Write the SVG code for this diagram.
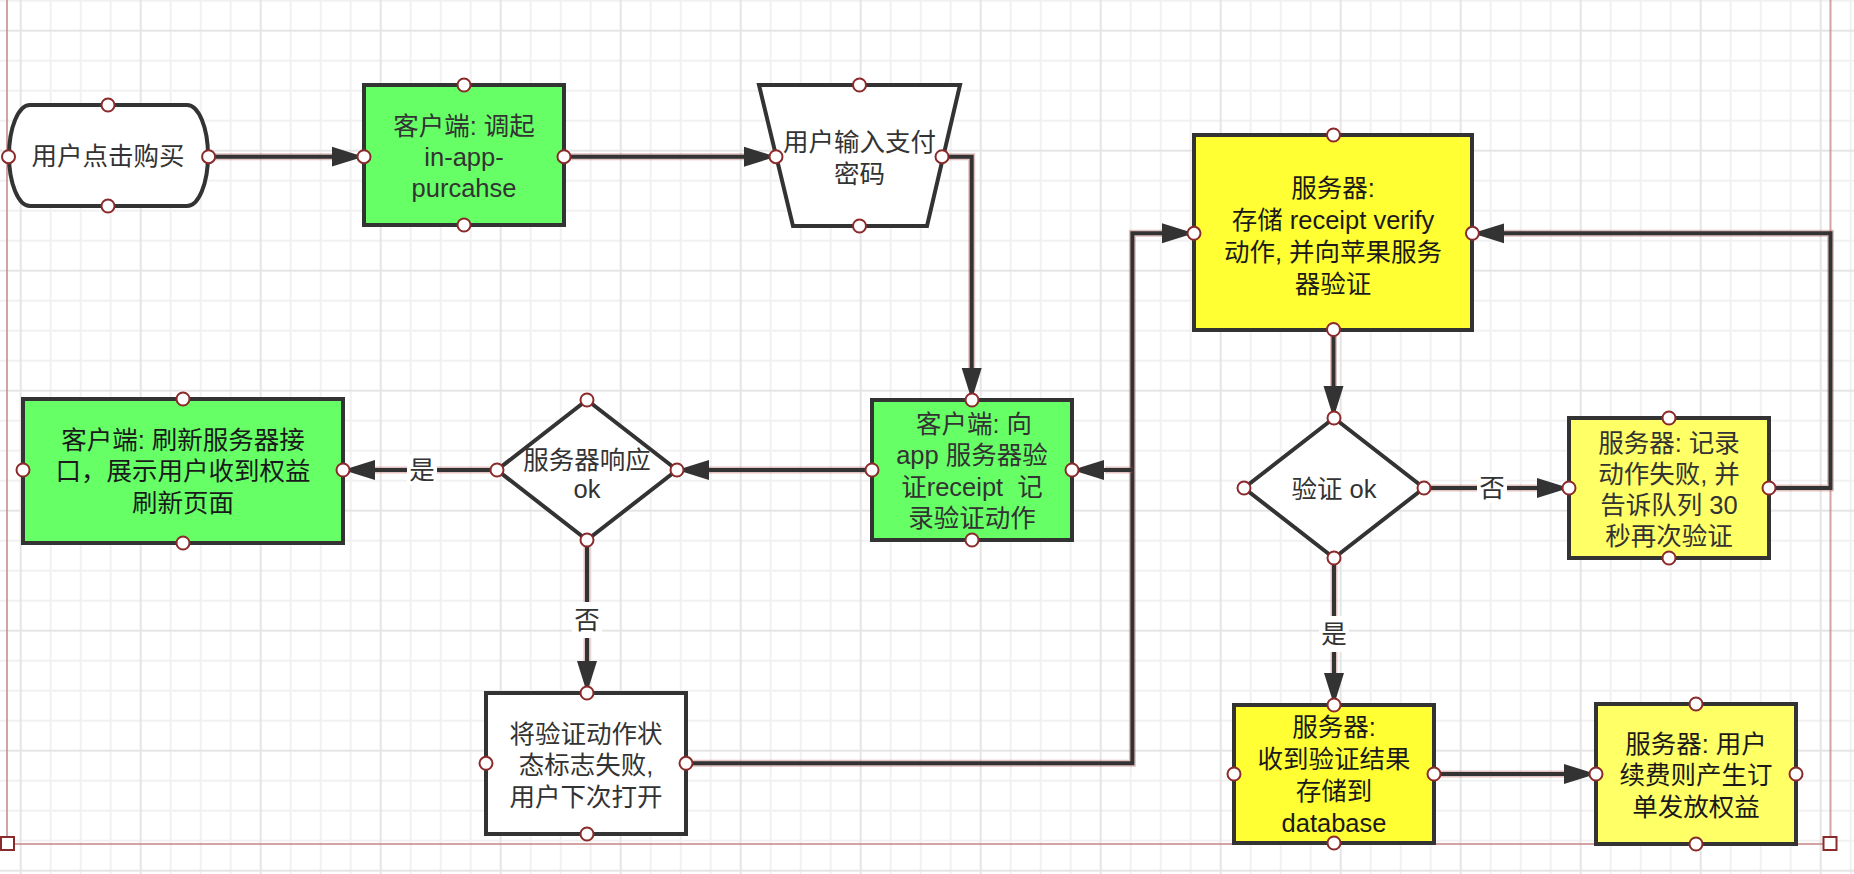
<svg xmlns="http://www.w3.org/2000/svg" width="1854" height="874" viewBox="0 0 1854 874">
<style>
.t{font-family:"Liberation Sans","Noto Sans CJK SC",sans-serif;font-size:25.5px;fill:#333;text-anchor:middle;dominant-baseline:central}
.d{fill:#1a1a1a}
.box{stroke:#333;stroke-width:4}
.g{fill:#66ff66}
.y1{fill:#ffff33}
.y2{fill:#ffff66}
.w{fill:#fff}
.port{fill:#fff;stroke:#8b2a2a;stroke-width:2}
.halo{fill:none;stroke:#b05050;stroke-opacity:0.35;stroke-width:7;stroke-linejoin:miter}
.ln{fill:none;stroke:#333;stroke-width:4;marker-end:url(#ah)}
.lbl{fill:#fff}
.border{stroke:#c88c8c;stroke-opacity:0.8;stroke-width:2;fill:none}
.sq{fill:#fff;stroke:#8b2a2a;stroke-width:2}
</style>
<defs>
<pattern id="grid" patternUnits="userSpaceOnUse" x="19.7" y="29.7" width="120" height="120">
<rect x="30" y="0" width="2" height="120" fill="#f1f1f1"/>
<rect x="60" y="0" width="2" height="120" fill="#f1f1f1"/>
<rect x="90" y="0" width="2" height="120" fill="#f1f1f1"/>
<rect x="0" y="30" width="120" height="2" fill="#f1f1f1"/>
<rect x="0" y="60" width="120" height="2" fill="#f1f1f1"/>
<rect x="0" y="90" width="120" height="2" fill="#f1f1f1"/>
<rect x="0" y="0" width="2" height="120" fill="#e5e5e5"/>
<rect x="0" y="0" width="120" height="2" fill="#e5e5e5"/>
</pattern>
<marker id="ah" markerUnits="userSpaceOnUse" markerWidth="34" markerHeight="22" refX="32" refY="11" orient="auto">
<path d="M0,1 L32,11 L0,21 z" fill="#333"/>
</marker>
</defs>
<rect width="1854" height="874" fill="#fff"/>
<rect width="1854" height="874" fill="url(#grid)"/>
<g id="border">
<path class="border" d="M7,0 V844 H1830.5 V0"/>
<rect class="sq" x="1" y="837" width="13" height="13"/>
<rect class="sq" x="1823.5" y="837" width="13" height="13"/>
</g>
<g id="connectors">
<path class="halo" d="M208.6,156.7 H340"/>
<path class="ln" d="M208.6,156.7 H363.6"/>
<path class="halo" d="M564.5,156.7 H750"/>
<path class="ln" d="M564.5,156.7 H776"/>
<path class="halo" d="M941.7,156.7 H971.7 V370"/>
<path class="ln" d="M941.7,156.7 H971.7 V400"/>
<path class="halo" d="M872,470 H705"/>
<path class="ln" d="M872,470 H677"/>
<path class="halo" d="M497,470 H370"/>
<path class="ln" d="M497,470 H343"/>
<rect class="lbl" x="407" y="455" width="30" height="30"/>
<text class="t" x="422" y="470">是</text>
<path class="halo" d="M587,540 V665"/>
<path class="ln" d="M587,540 V693"/>
<rect class="lbl" x="572" y="602" width="30" height="36"/>
<text class="t" x="587" y="620">否</text>
<path class="halo" d="M686,763.3 H1132.4 V233.3 H1165"/>
<path class="ln" d="M686,763.3 H1132.4 V233.3 H1194"/>
<path class="halo" d="M1132.4,470 H1105"/>
<path class="ln" d="M1132.4,470 H1072"/>
<path class="halo" d="M1333.5,329.5 V388"/>
<path class="ln" d="M1333.5,329.5 V418"/>
<path class="halo" d="M1424,488 H1540"/>
<path class="ln" d="M1424,488 H1569"/>
<rect class="lbl" x="1477" y="473" width="30" height="30"/>
<text class="t" x="1492" y="488">否</text>
<path class="halo" d="M1769,488 H1830.5 V233.3 H1502"/>
<path class="ln" d="M1769,488 H1830.5 V233.3 H1472.4"/>
<path class="halo" d="M1334,558 V676"/>
<path class="ln" d="M1334,558 V705"/>
<rect class="lbl" x="1319" y="616" width="30" height="36"/>
<text class="t" x="1334" y="634">是</text>
<path class="halo" d="M1434,774 H1565"/>
<path class="ln" d="M1434,774 H1596"/>
</g>
<g id="n-start">
<path class="box w" d="M30,105 H187 A21 50.5 0 0 1 187,206 H30 A21 50.5 0 0 1 30,105 Z"/>
<text class="t" x="108" y="156">用户点击购买</text>
<circle class="port" cx="108" cy="105" r="6.5"/>
<circle class="port" cx="8.5" cy="156.7" r="6.5"/>
<circle class="port" cx="208.6" cy="156.7" r="6.5"/>
<circle class="port" cx="108" cy="206" r="6.5"/>
</g>
<g id="n-client-iap">
<rect class="box g" x="364" y="85" width="200" height="140"/>
<text class="t" x="464" y="126">客户端: 调起</text>
<text class="t" x="464" y="157">in-app-</text>
<text class="t" x="464" y="188">purcahse</text>
<circle class="port" cx="464" cy="85" r="6.5"/>
<circle class="port" cx="364" cy="156.7" r="6.5"/>
<circle class="port" cx="564" cy="156.7" r="6.5"/>
<circle class="port" cx="464" cy="225" r="6.5"/>
</g>
<g id="n-password">
<path class="box w" d="M759,85 H960 L927,226 H793 Z"/>
<text class="t" x="859.5" y="142">用户输入支付</text>
<text class="t" x="859.5" y="173.5">密码</text>
<circle class="port" cx="859.5" cy="85" r="6.5"/>
<circle class="port" cx="776" cy="156.7" r="6.5"/>
<circle class="port" cx="942" cy="156.7" r="6.5"/>
<circle class="port" cx="859.5" cy="226" r="6.5"/>
</g>
<g id="n-client-verify">
<rect class="box g" x="872" y="400" width="200" height="140"/>
<text class="t" x="974" y="423.5">客户端: 向</text>
<text class="t" x="972" y="455">app 服务器验</text>
<text class="t" x="972" y="486.5">证receipt &#160;记</text>
<text class="t" x="972" y="518">录验证动作</text>
<circle class="port" cx="972" cy="400" r="6.5"/>
<circle class="port" cx="872" cy="470" r="6.5"/>
<circle class="port" cx="1072" cy="470" r="6.5"/>
<circle class="port" cx="972" cy="540" r="6.5"/>
</g>
<g id="n-server-resp">
<path class="box w" d="M587,400 L677,470 L587,540 L497,470 Z"/>
<text class="t" x="587" y="460">服务器响应</text>
<text class="t" x="587" y="489">ok</text>
<circle class="port" cx="587" cy="400" r="6.5"/>
<circle class="port" cx="497" cy="470" r="6.5"/>
<circle class="port" cx="677" cy="470" r="6.5"/>
<circle class="port" cx="587" cy="540" r="6.5"/>
</g>
<g id="n-client-refresh">
<rect class="box g" x="23" y="399" width="320" height="144"/>
<text class="t d" x="183" y="440">客户端: 刷新服务器接</text>
<text class="t d" x="183" y="471">口，展示用户收到权益</text>
<text class="t d" x="183" y="503">刷新页面</text>
<circle class="port" cx="183" cy="399" r="6.5"/>
<circle class="port" cx="23" cy="470" r="6.5"/>
<circle class="port" cx="343" cy="470" r="6.5"/>
<circle class="port" cx="183" cy="543" r="6.5"/>
</g>
<g id="n-mark-fail">
<rect class="box w" x="486" y="693" width="200" height="141"/>
<text class="t" x="586" y="733.5">将验证动作状</text>
<text class="t" x="586" y="765">态标志失败,</text>
<text class="t" x="586" y="796.5">用户下次打开</text>
<circle class="port" cx="587" cy="693" r="6.5"/>
<circle class="port" cx="486" cy="763.3" r="6.5"/>
<circle class="port" cx="686" cy="763.3" r="6.5"/>
<circle class="port" cx="587" cy="834" r="6.5"/>
</g>
<g id="n-server-store">
<rect class="box y1" x="1194" y="135" width="278" height="195"/>
<text class="t d" x="1333" y="187.5">服务器:</text>
<text class="t d" x="1333" y="219.5">存储 receipt verify</text>
<text class="t d" x="1333" y="251.5">动作, 并向苹果服务</text>
<text class="t d" x="1333" y="283.5">器验证</text>
<circle class="port" cx="1333.5" cy="135" r="6.5"/>
<circle class="port" cx="1194" cy="233.3" r="6.5"/>
<circle class="port" cx="1472.4" cy="233.3" r="6.5"/>
<circle class="port" cx="1333.5" cy="329.5" r="6.5"/>
</g>
<g id="n-verify-ok">
<path class="box w" d="M1334,418 L1424,488 L1334,558 L1244,488 Z"/>
<text class="t" x="1334" y="489">验证 ok</text>
<circle class="port" cx="1334" cy="418" r="6.5"/>
<circle class="port" cx="1244" cy="488" r="6.5"/>
<circle class="port" cx="1424" cy="488" r="6.5"/>
<circle class="port" cx="1334" cy="558" r="6.5"/>
</g>
<g id="n-server-retry">
<rect class="box y2" x="1569" y="418" width="200" height="140"/>
<text class="t" x="1669" y="443">服务器: 记录</text>
<text class="t" x="1669" y="474">动作失败, 并</text>
<text class="t" x="1669" y="505">告诉队列 30</text>
<text class="t" x="1669" y="536">秒再次验证</text>
<circle class="port" cx="1669" cy="418" r="6.5"/>
<circle class="port" cx="1569" cy="488" r="6.5"/>
<circle class="port" cx="1769" cy="488" r="6.5"/>
<circle class="port" cx="1669" cy="558" r="6.5"/>
</g>
<g id="n-server-result">
<rect class="box y1" x="1234" y="705" width="200" height="138"/>
<text class="t d" x="1334" y="727">服务器:</text>
<text class="t d" x="1334" y="759">收到验证结果</text>
<text class="t d" x="1334" y="791">存储到</text>
<text class="t d" x="1334" y="823">database</text>
<circle class="port" cx="1334" cy="705" r="6.5"/>
<circle class="port" cx="1234" cy="774" r="6.5"/>
<circle class="port" cx="1434" cy="774" r="6.5"/>
<circle class="port" cx="1334" cy="843" r="6.5"/>
</g>
<g id="n-server-order">
<rect class="box y2" x="1596" y="704" width="200" height="140"/>
<text class="t d" x="1696" y="743.5">服务器: 用户</text>
<text class="t d" x="1696" y="775">续费则产生订</text>
<text class="t d" x="1696" y="806.5">单发放权益</text>
<circle class="port" cx="1696" cy="704" r="6.5"/>
<circle class="port" cx="1596" cy="774" r="6.5"/>
<circle class="port" cx="1796" cy="774" r="6.5"/>
<circle class="port" cx="1696" cy="844" r="6.5"/>
</g>
</svg>
